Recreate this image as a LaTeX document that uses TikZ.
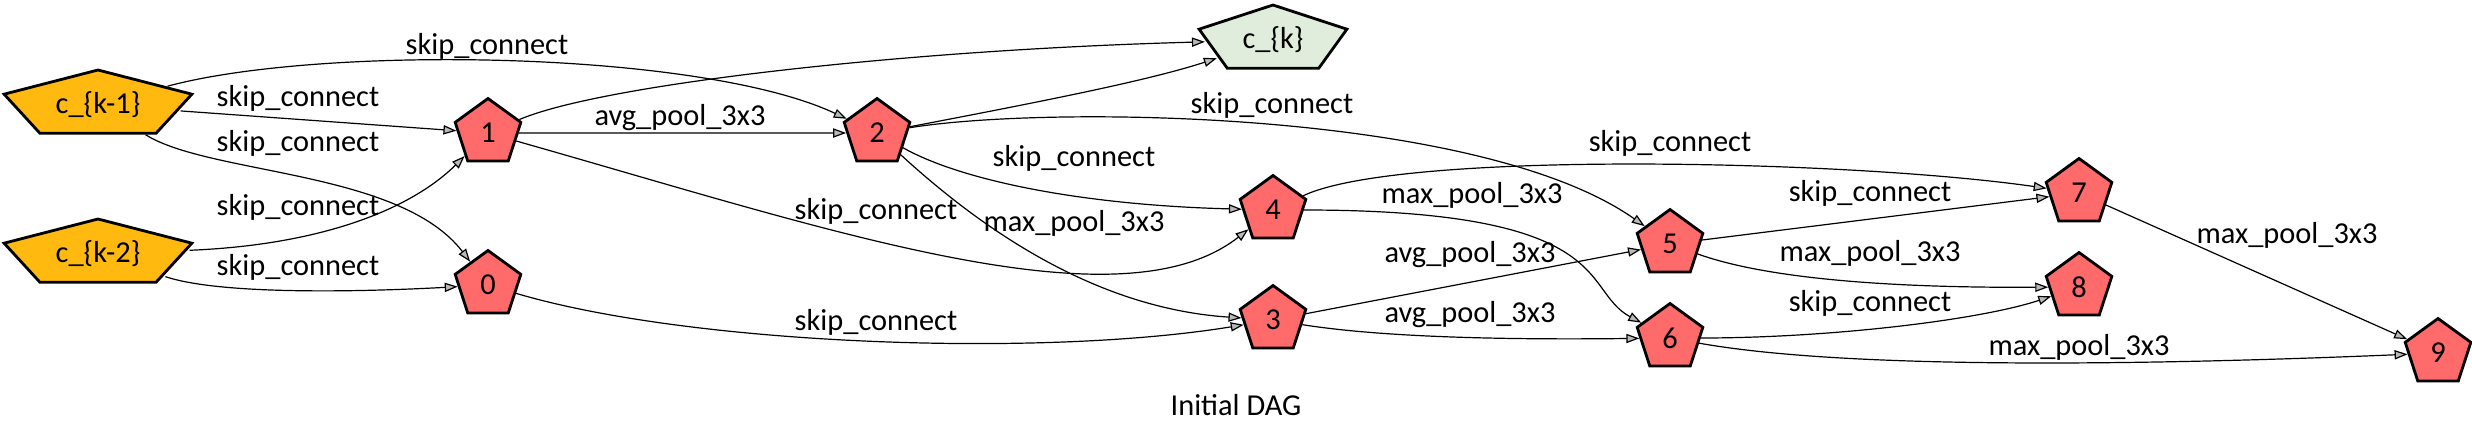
\documentclass[tikz,border=0pt]{standalone}
\usepackage{fontspec}
\usepackage{graphicx}
\setmainfont{Carlito}
\usetikzlibrary{shapes.geometric, arrows.meta}
\definecolor{opred}{HTML}{FF6A6A}
\definecolor{inorange}{HTML}{FFB90F}
\definecolor{outgreen}{HTML}{E0EDDD}
\newcommand{\dagfont}{\fontsize{15.2pt}{18pt}\selectfont}
\newcommand{\squeeze}[2]{\makebox[0pt]{\scalebox{#1}[1]{#2}}}
\tikzset{>={Triangle[length=6.5pt, width=4.6pt, fill=gray!55]},
  pent/.style={regular polygon, regular polygon sides=5, draw, line width=1.4pt, minimum size=34.5pt, inner sep=0pt, font=\dagfont},
  opnode/.style={pent, fill=opred},
  innode/.style={pent, minimum size=35pt, fill=inorange, xscale=2.82, transform shape},
  outnode/.style={pent, minimum size=35pt, fill=outgreen, xscale=2.22, transform shape},
  edge/.style={->, line width=0.6pt},
  oplabel/.style={font=\dagfont, inner sep=0pt}}

\begin{document}
\begin{tikzpicture}[x=0.5pt, y=-0.5pt]
    \useasboundingbox (0,0) rectangle (2472,434);
    \node[innode] (ck1) at (98,105) {\squeeze{0.355}{c\_\{k-1\}}};
    \node[innode] (ck2) at (98,254) {\squeeze{0.355}{c\_\{k-2\}}};
    \node[outnode] (ck) at (1273,40) {\squeeze{0.45}{c\_\{k\}}};
    \node[opnode] (n0) at (488,285) {0};
    \node[opnode] (n1) at (488,133) {1};
    \node[opnode] (n2) at (877,133) {2};
    \node[opnode] (n3) at (1273,320) {3};
    \node[opnode] (n4) at (1273,210) {4};
    \node[opnode] (n5) at (1670,244) {5};
    \node[opnode] (n6) at (1670,338) {6};
    \node[opnode] (n7) at (2079,193) {7};
    \node[opnode] (n8) at (2079,287) {8};
    \node[opnode] (n9) at (2438,353) {9};
    \draw[edge] (ck1) .. controls (320,45) and (700,50) .. (n2);
    \draw[edge] (ck1) -- (n1);
    \draw[edge] (ck1) .. controls (210,175) and (400,170) .. (n0);
    \draw[edge] (ck2) .. controls (320,245) and (410,210) .. (n1);
    \draw[edge] (ck2) .. controls (220,295) and (360,292) .. (n0);
    \draw[edge] (n1) .. controls (600,85) and (900,50) .. (ck);
    \draw[edge] (n1) -- (n2);
    \draw[edge] (n1) .. controls (830,230) and (1120,330) .. (n4);
    \draw[edge] (n0) .. controls (690,345) and (1040,358) .. (n3);
    \draw[edge] (n2) .. controls (1050,100) and (1150,80) .. (ck);
    \draw[edge] (n2) .. controls (1050,105) and (1480,110) .. (n5);
    \draw[edge] (n2) .. controls (960,180) and (1080,205) .. (n4);
    \draw[edge] (n2) .. controls (1010,255) and (1120,310) .. (n3);
    \draw[edge] (n4) .. controls (1400,150) and (1850,160) .. (n7);
    \draw[edge] (n4) .. controls (1620,210) and (1580,290) .. (n6);
    \draw[edge] (n3) -- (n5);
    \draw[edge] (n3) .. controls (1380,337) and (1500,340) .. (n6);
    \draw[edge] (n5) -- (n7);
    \draw[edge] (n5) .. controls (1770,280) and (1900,288) .. (n8);
    \draw[edge] (n6) .. controls (1830,338) and (1980,320) .. (n8);
    \draw[edge] (n6) .. controls (1850,370) and (2150,365) .. (n9);
    \draw[edge] (n7) -- (n9);
    \node[oplabel] (t1) at (487,46) {skip\_connect};
    \node[oplabel] (t2) at (298,98) {skip\_connect};
    \node[oplabel] (t3) at (298,143) {skip\_connect};
    \node[oplabel] (t4) at (298,207) {skip\_connect};
    \node[oplabel] (t5) at (298,267) {skip\_connect};
    \node[oplabel] (t6) at (680,118) {avg\_pool\_3x3};
    \node[oplabel] (t7) at (876,211) {skip\_connect};
    \node[oplabel] (t8) at (876,322) {skip\_connect};
    \node[oplabel] (t9) at (1272,105) {skip\_connect};
    \node[oplabel] (t10) at (1074,158) {skip\_connect};
    \node[oplabel] (t11) at (1074,223) {max\_pool\_3x3};
    \node[oplabel] (t12) at (1670,143) {skip\_connect};
    \node[oplabel] (t13) at (1472,195) {max\_pool\_3x3};
    \node[oplabel] (t14) at (1470,255) {avg\_pool\_3x3};
    \node[oplabel] (t15) at (1470,315) {avg\_pool\_3x3};
    \node[oplabel] (t16) at (1870,193) {skip\_connect};
    \node[oplabel] (t17) at (1870,253) {max\_pool\_3x3};
    \node[oplabel] (t18) at (1870,303) {skip\_connect};
    \node[oplabel] (t19) at (2079,347) {max\_pool\_3x3};
    \node[oplabel] (t20) at (2287,235) {max\_pool\_3x3};
    \node[oplabel] (cap) at (1236,405) {Initial DAG};
\end{tikzpicture}
\end{document}
